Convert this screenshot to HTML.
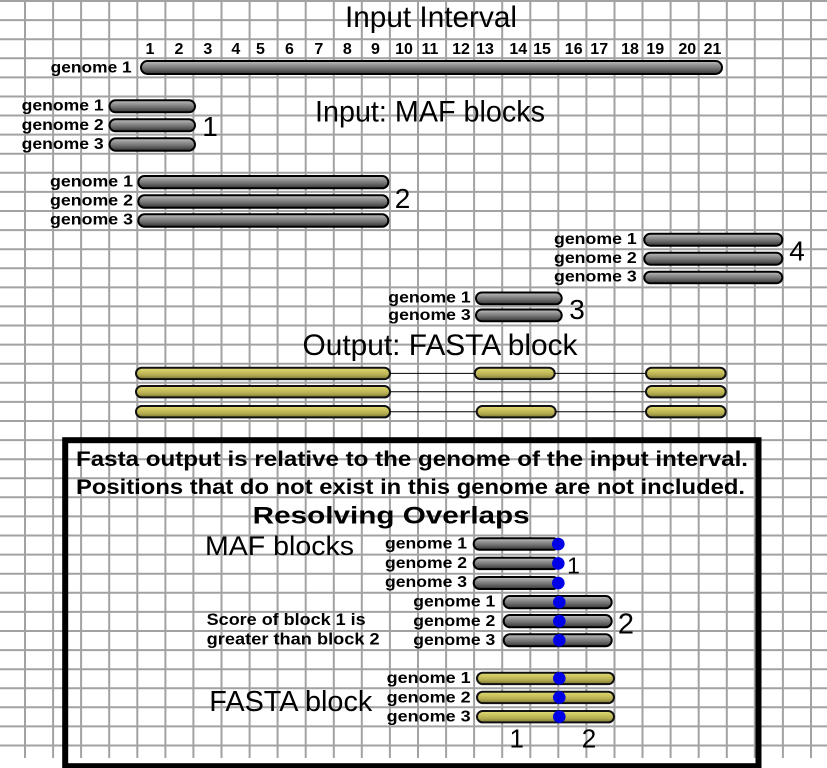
<!DOCTYPE html>
<html><head><meta charset="utf-8"><style>
html,body{margin:0;padding:0;background:#fff;}
svg{display:block;}
text{font-family:"Liberation Sans",Arial,sans-serif;fill:#000;}
.b{font-weight:bold;}
</style></head><body>
<svg width="827" height="768" viewBox="0 0 827 768" xmlns="http://www.w3.org/2000/svg">
<defs>
<linearGradient id="gg" x1="0" y1="0" x2="0" y2="1">
<stop offset="0" stop-color="#c4c4c4"/><stop offset="0.28" stop-color="#989898"/><stop offset="0.62" stop-color="#6c6c6c"/><stop offset="1" stop-color="#333"/>
</linearGradient>
<linearGradient id="yg" x1="0" y1="0" x2="0" y2="1">
<stop offset="0" stop-color="#e2dc7c"/><stop offset="0.3" stop-color="#cfc760"/><stop offset="0.65" stop-color="#b4ac50"/><stop offset="1" stop-color="#7a7434"/>
</linearGradient>
</defs>
<rect width="827" height="768" fill="#fff"/>
<g stroke="#a2a2a2" stroke-width="2">
<line x1="25" y1="0" x2="25" y2="758"/><line x1="53.1" y1="0" x2="53.1" y2="758"/><line x1="81.1" y1="0" x2="81.1" y2="758"/><line x1="109.2" y1="0" x2="109.2" y2="758"/><line x1="137.3" y1="0" x2="137.3" y2="758"/><line x1="165.4" y1="0" x2="165.4" y2="758"/><line x1="193.4" y1="0" x2="193.4" y2="758"/><line x1="221.5" y1="0" x2="221.5" y2="758"/><line x1="249.6" y1="0" x2="249.6" y2="758"/><line x1="277.6" y1="0" x2="277.6" y2="758"/><line x1="305.7" y1="0" x2="305.7" y2="758"/><line x1="333.8" y1="0" x2="333.8" y2="758"/><line x1="361.8" y1="0" x2="361.8" y2="758"/><line x1="389.9" y1="0" x2="389.9" y2="758"/><line x1="418" y1="0" x2="418" y2="758"/><line x1="446.1" y1="0" x2="446.1" y2="758"/><line x1="474.1" y1="0" x2="474.1" y2="758"/><line x1="502.2" y1="0" x2="502.2" y2="758"/><line x1="530.3" y1="0" x2="530.3" y2="758"/><line x1="558.3" y1="0" x2="558.3" y2="758"/><line x1="586.4" y1="0" x2="586.4" y2="758"/><line x1="614.5" y1="0" x2="614.5" y2="758"/><line x1="642.5" y1="0" x2="642.5" y2="758"/><line x1="670.6" y1="0" x2="670.6" y2="758"/><line x1="698.7" y1="0" x2="698.7" y2="758"/><line x1="726.8" y1="0" x2="726.8" y2="758"/><line x1="754.8" y1="0" x2="754.8" y2="758"/><line x1="782.9" y1="0" x2="782.9" y2="758"/><line x1="811" y1="0" x2="811" y2="758"/>
<line x1="0" y1="1" x2="827" y2="1"/><line x1="0" y1="20.1" x2="827" y2="20.1"/><line x1="0" y1="39.2" x2="827" y2="39.2"/><line x1="0" y1="58.3" x2="827" y2="58.3"/><line x1="0" y1="77.4" x2="827" y2="77.4"/><line x1="0" y1="96.5" x2="827" y2="96.5"/><line x1="0" y1="115.5" x2="827" y2="115.5"/><line x1="0" y1="134.6" x2="827" y2="134.6"/><line x1="0" y1="153.7" x2="827" y2="153.7"/><line x1="0" y1="172.8" x2="827" y2="172.8"/><line x1="0" y1="191.9" x2="827" y2="191.9"/><line x1="0" y1="211" x2="827" y2="211"/><line x1="0" y1="230.1" x2="827" y2="230.1"/><line x1="0" y1="249.2" x2="827" y2="249.2"/><line x1="0" y1="268.3" x2="827" y2="268.3"/><line x1="0" y1="287.4" x2="827" y2="287.4"/><line x1="0" y1="306.4" x2="827" y2="306.4"/><line x1="0" y1="325.5" x2="827" y2="325.5"/><line x1="0" y1="344.6" x2="827" y2="344.6"/><line x1="0" y1="363.7" x2="827" y2="363.7"/><line x1="0" y1="382.8" x2="827" y2="382.8"/><line x1="0" y1="401.9" x2="827" y2="401.9"/><line x1="0" y1="421" x2="827" y2="421"/><line x1="0" y1="440.1" x2="827" y2="440.1"/><line x1="0" y1="459.2" x2="827" y2="459.2"/><line x1="0" y1="478.3" x2="827" y2="478.3"/><line x1="0" y1="497.3" x2="827" y2="497.3"/><line x1="0" y1="516.4" x2="827" y2="516.4"/><line x1="0" y1="535.5" x2="827" y2="535.5"/><line x1="0" y1="554.6" x2="827" y2="554.6"/><line x1="0" y1="573.7" x2="827" y2="573.7"/><line x1="0" y1="592.8" x2="827" y2="592.8"/><line x1="0" y1="611.9" x2="827" y2="611.9"/><line x1="0" y1="631" x2="827" y2="631"/><line x1="0" y1="650.1" x2="827" y2="650.1"/><line x1="0" y1="669.2" x2="827" y2="669.2"/><line x1="0" y1="688.2" x2="827" y2="688.2"/><line x1="0" y1="707.3" x2="827" y2="707.3"/><line x1="0" y1="726.4" x2="827" y2="726.4"/><line x1="0" y1="745.5" x2="827" y2="745.5"/>
</g>

<!-- Titles -->
<text x="345" y="27" font-size="30" textLength="172" lengthAdjust="spacingAndGlyphs">Input Interval</text>
<text x="315" y="121.5" font-size="30" textLength="230" lengthAdjust="spacingAndGlyphs">Input: MAF blocks</text>
<text x="302.5" y="355" font-size="30" textLength="275" lengthAdjust="spacingAndGlyphs">Output: FASTA block</text>

<!-- Number ruler -->
<g font-size="16" text-anchor="middle">
<text x="150" y="54" class="b">1</text><text x="179" y="54" class="b">2</text><text x="207.8" y="54" class="b">3</text><text x="235.8" y="54" class="b">4</text><text x="260.5" y="54" class="b">5</text><text x="289.5" y="54" class="b">6</text><text x="318.8" y="54" class="b">7</text><text x="347.3" y="54" class="b">8</text><text x="375.5" y="54" class="b">9</text><text x="404" y="54" class="b">10</text><text x="430" y="54" class="b">11</text><text x="461" y="54" class="b">12</text><text x="485" y="54" class="b">13</text><text x="518.3" y="54" class="b">14</text><text x="542" y="54" class="b">15</text><text x="573.7" y="54" class="b">16</text><text x="599.2" y="54" class="b">17</text><text x="630" y="54" class="b">18</text><text x="655.3" y="54" class="b">19</text><text x="687.3" y="54" class="b">20</text><text x="712.5" y="54" class="b">21</text>
</g>

<!-- genome labels -->
<g font-size="16">
<text class="b" x="50.7" y="72.5" textLength="81" lengthAdjust="spacingAndGlyphs">genome 1</text>
<text class="b" x="21.7" y="110.5" textLength="82" lengthAdjust="spacingAndGlyphs">genome 1</text>
<text class="b" x="21.7" y="130" textLength="82" lengthAdjust="spacingAndGlyphs">genome 2</text>
<text class="b" x="21.7" y="149" textLength="82" lengthAdjust="spacingAndGlyphs">genome 3</text>
<text class="b" x="50" y="186.5" textLength="83" lengthAdjust="spacingAndGlyphs">genome 1</text>
<text class="b" x="50" y="205.7" textLength="83" lengthAdjust="spacingAndGlyphs">genome 2</text>
<text class="b" x="50" y="224.7" textLength="83" lengthAdjust="spacingAndGlyphs">genome 3</text>
<text class="b" x="554" y="244" textLength="82.7" lengthAdjust="spacingAndGlyphs">genome 1</text>
<text class="b" x="554" y="263" textLength="82.7" lengthAdjust="spacingAndGlyphs">genome 2</text>
<text class="b" x="554" y="281.7" textLength="82.7" lengthAdjust="spacingAndGlyphs">genome 3</text>
<text class="b" x="388.3" y="302.5" textLength="82.4" lengthAdjust="spacingAndGlyphs">genome 1</text>
<text class="b" x="388.3" y="320" textLength="82.4" lengthAdjust="spacingAndGlyphs">genome 3</text>
</g>

<!-- gray bars -->
<g fill="url(#gg)" stroke="#000" stroke-width="2">
<rect x="141" y="61" width="581" height="13" rx="6.5"/>
<rect x="109.5" y="100.3" width="85.5" height="12" rx="6"/>
<rect x="109.5" y="119.3" width="85.5" height="12" rx="6"/>
<rect x="109.5" y="138.3" width="85.5" height="12.4" rx="6.2"/>
<rect x="138.3" y="176" width="250" height="12.3" rx="6.1"/>
<rect x="138.3" y="195.3" width="250" height="12.4" rx="6.2"/>
<rect x="138.3" y="214.3" width="250" height="12.4" rx="6.2"/>
<rect x="644.3" y="233.7" width="138" height="12" rx="6"/>
<rect x="644.3" y="252.7" width="138" height="12" rx="6"/>
<rect x="644.3" y="271.7" width="138" height="11.6" rx="5.8"/>
<rect x="476" y="292.5" width="85.7" height="11.7" rx="5.8"/>
<rect x="476" y="309.5" width="85.7" height="11.7" rx="5.8"/>
</g>

<!-- block numbers -->
<g font-size="28" text-anchor="middle">
<text x="210" y="136">1</text>
<text x="402.5" y="208">2</text>
<text x="577" y="319">3</text>
<text x="797" y="260.5">4</text>
</g>

<!-- output connectors -->
<g stroke="#000" stroke-width="1">
<line x1="390" y1="373.4" x2="475" y2="373.4"/><line x1="555" y1="373.4" x2="646" y2="373.4"/>
<line x1="390" y1="391.7" x2="646" y2="391.7"/>
<line x1="390" y1="411.7" x2="477" y2="411.7"/><line x1="556" y1="411.7" x2="646" y2="411.7"/>
</g>
<g fill="url(#yg)" stroke="#111" stroke-width="2">
<rect x="136" y="367.7" width="254" height="11.4" rx="5.7"/>
<rect x="136" y="386" width="254" height="11.4" rx="5.7"/>
<rect x="136" y="406" width="254" height="11.4" rx="5.7"/>
<rect x="474.7" y="367.7" width="80" height="11.4" rx="5.7"/>
<rect x="476.7" y="406" width="79" height="11.4" rx="5.7"/>
<rect x="646" y="367.7" width="79.7" height="11.4" rx="5.7"/>
<rect x="646" y="386" width="79.7" height="11.4" rx="5.7"/>
<rect x="646" y="406" width="79.7" height="11.4" rx="5.7"/>
</g>

<!-- box -->
<rect x="65.2" y="440.2" width="693.3" height="326" fill="none" stroke="#000" stroke-width="6"/>

<text class="b" x="76" y="466" font-size="21" textLength="672" lengthAdjust="spacingAndGlyphs">Fasta output is relative to the genome of the input interval.</text>
<text class="b" x="76" y="494" font-size="21" textLength="669" lengthAdjust="spacingAndGlyphs">Positions that do not exist in this genome are not included.</text>
<text class="b" x="252.7" y="523.3" font-size="24" textLength="277" lengthAdjust="spacingAndGlyphs">Resolving Overlaps</text>
<text x="205" y="555" font-size="27" textLength="149" lengthAdjust="spacingAndGlyphs">MAF blocks</text>
<text x="209.3" y="711" font-size="29" textLength="163" lengthAdjust="spacingAndGlyphs">FASTA block</text>
<text class="b" x="206.7" y="625" font-size="16.5" textLength="159" lengthAdjust="spacingAndGlyphs">Score of block 1 is</text>
<text class="b" x="206.7" y="644.5" font-size="16.5" textLength="173" lengthAdjust="spacingAndGlyphs">greater than block 2</text>

<g font-size="16">
<text class="b" x="385" y="548.5" textLength="82" lengthAdjust="spacingAndGlyphs">genome 1</text>
<text class="b" x="385" y="567.8" textLength="82" lengthAdjust="spacingAndGlyphs">genome 2</text>
<text class="b" x="385" y="587.2" textLength="82" lengthAdjust="spacingAndGlyphs">genome 3</text>
<text class="b" x="413.3" y="606.7" textLength="82" lengthAdjust="spacingAndGlyphs">genome 1</text>
<text class="b" x="413.3" y="626" textLength="82" lengthAdjust="spacingAndGlyphs">genome 2</text>
<text class="b" x="413.3" y="645" textLength="82" lengthAdjust="spacingAndGlyphs">genome 3</text>
<text class="b" x="386.7" y="683" textLength="84" lengthAdjust="spacingAndGlyphs">genome 1</text>
<text class="b" x="386.7" y="702.5" textLength="84" lengthAdjust="spacingAndGlyphs">genome 2</text>
<text class="b" x="386.7" y="721.7" textLength="84" lengthAdjust="spacingAndGlyphs">genome 3</text>
</g>

<g fill="url(#gg)" stroke="#000" stroke-width="2">
<rect x="473.7" y="538.3" width="85.3" height="11.4" rx="5.7"/>
<rect x="473.7" y="557.7" width="85.3" height="11.4" rx="5.7"/>
<rect x="473.7" y="577" width="85.3" height="12" rx="6"/>
<rect x="503.7" y="596" width="108" height="12.3" rx="6.1"/>
<rect x="503.7" y="615" width="108" height="12.3" rx="6.1"/>
<rect x="503.7" y="634.3" width="108" height="12" rx="6"/>
</g>
<g fill="url(#yg)" stroke="#111" stroke-width="2">
<rect x="477" y="672.7" width="137" height="11.4" rx="5.7"/>
<rect x="477" y="691.7" width="137" height="11.4" rx="5.7"/>
<rect x="477" y="711" width="137" height="11.4" rx="5.7"/>
</g>
<g fill="#0000e6">
<circle cx="558.3" cy="544" r="6.3"/><circle cx="558.3" cy="563.4" r="6.3"/><circle cx="558.3" cy="583" r="6.3"/>
<circle cx="559.3" cy="602.2" r="6.3"/><circle cx="559.3" cy="621.2" r="6.3"/><circle cx="559.3" cy="640.3" r="6.3"/>
<circle cx="559.3" cy="678.3" r="6.3"/><circle cx="559.3" cy="697.4" r="6.3"/><circle cx="559.3" cy="716.7" r="6.3"/>
</g>
<g text-anchor="middle">
<text x="573.5" y="573.3" font-size="23">1</text>
<text x="626" y="633.3" font-size="29">2</text>
<text x="516.7" y="747.3" font-size="26">1</text>
<text x="589" y="747.3" font-size="26">2</text>
</g>
</svg>
</body></html>
